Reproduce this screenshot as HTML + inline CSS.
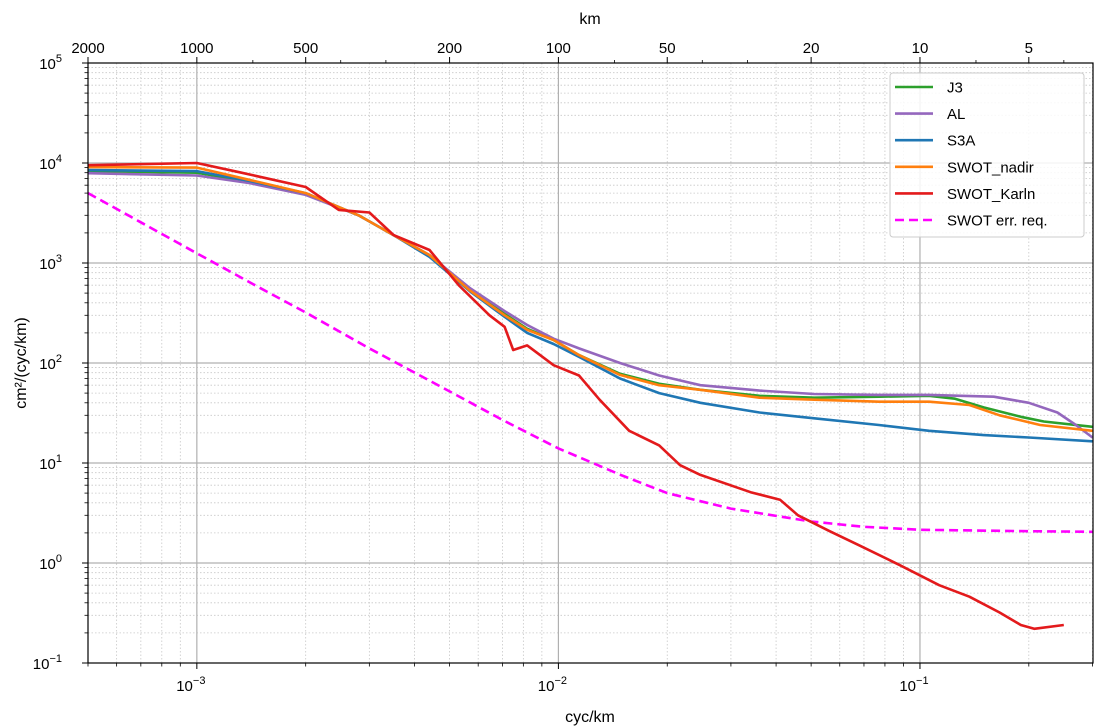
<!DOCTYPE html>
<html><head><meta charset="utf-8"><style>
body{margin:0;background:#fff;}
svg{display:block;font-family:"Liberation Sans","DejaVu Sans",sans-serif;}
</style></head><body>
<svg id="chart" width="1102" height="728" viewBox="0 0 1102 728">
<g id="grid"></g>
<g id="series"></g>
<rect x="88" y="63" width="1005" height="600" fill="none" stroke="#000" stroke-width="1.2"/>
<g id="axes"></g>
<text x="590" y="24" font-size="16" text-anchor="middle">km</text>
<text x="590" y="722" font-size="16" text-anchor="middle">cyc/km</text>
<text transform="translate(26,363) rotate(-90)" font-size="16" text-anchor="middle">cm²/(cyc/km)</text>
<g id="legend">
<rect x="890" y="73" width="194" height="164" rx="3" fill="#fff" fill-opacity="0.85" stroke="#ccc"/>
</g>
</svg>
<script>
const xTicksMajor=[1e-3,1e-2,1e-1];
const xTickLabels=["10","10","10"];
const xTickExps=["−3","−2","−1"];
const kmTicks=[2000,1000,500,200,100,50,20,10,5];
const yTicksMajor=[1e-1,1,10,100,1000,1e4,1e5];
const yTickExps=["−1","0","1","2","3","4","5"];

const fJ3=[5e-4,1e-3,1.4e-3,2e-3,2.8e-3,3.5e-3,4.4e-3,5.7e-3,7.1e-3,8.2e-3,9.7e-3,1.14e-2,1.48e-2,1.9e-2,2.47e-2,3.6e-2,5.1e-2,7.7e-2,0.106,0.125,0.15,0.19,0.22,0.3];
const vJ3=[8300,8000,6500,4900,3000,1900,1200,540,310,220,170,120,78,62,54,47,45,46,47,44,36,29,26,23];
const fAL=[5e-4,1e-3,1.4e-3,2e-3,2.8e-3,3.5e-3,4.4e-3,5.7e-3,7.1e-3,8.2e-3,9.7e-3,1.14e-2,1.48e-2,1.9e-2,2.47e-2,3.6e-2,5.1e-2,7.7e-2,0.106,0.13,0.16,0.2,0.24,0.27,0.3];
const vAL=[7900,7500,6300,4800,3000,1900,1200,560,330,240,175,140,100,75,60,53,49,48,48,47,46,40,32,24,18];
const fS3A=[5e-4,1e-3,1.4e-3,2e-3,2.8e-3,3.5e-3,4.4e-3,5.7e-3,7.1e-3,8.2e-3,9.7e-3,1.14e-2,1.48e-2,1.9e-2,2.47e-2,3.6e-2,5.1e-2,7.7e-2,0.106,0.15,0.2,0.3];
const vS3A=[8500,8300,6600,5000,3000,1900,1150,520,290,200,155,115,70,50,40,32,28,24,21,19,18,16.5];
const fNadir=[5e-4,1e-3,1.39e-3,2e-3,2.8e-3,3.5e-3,4.4e-3,5.66e-3,7.1e-3,8.2e-3,9.7e-3,1.14e-2,1.48e-2,1.9e-2,2.47e-2,3.6e-2,5.1e-2,7.7e-2,0.106,0.137,0.166,0.215,0.3];
const vNadir=[9100,9000,6800,5000,3000,1900,1200,540,300,215,170,120,76,60,54,45,43,41,41,38,30,24,21];
const fKarln=[5e-4,1e-3,1.31e-3,2e-3,2.47e-3,3e-3,3.5e-3,4.4e-3,5.3e-3,6.45e-3,7.1e-3,7.5e-3,8.2e-3,9.7e-3,1.14e-2,1.3e-2,1.57e-2,1.9e-2,2.17e-2,2.47e-2,3.4e-2,4.1e-2,4.6e-2,5.6e-2,6.8e-2,8.8e-2,0.113,0.137,0.166,0.19,0.207,0.25];
const vKarln=[9500,10000,8100,5750,3400,3200,1900,1350,600,300,230,135,150,95,75,43,21,15,9.5,7.6,5.1,4.3,3,2.1,1.5,0.95,0.6,0.46,0.32,0.24,0.22,0.24];
const fReq=[5e-4,7e-4,1e-3,1.5e-3,2e-3,3e-3,5e-3,7e-3,1e-2,1.5e-2,2e-2,3e-2,5e-2,7e-2,0.1,0.2,0.3];
const vReq=[5000,2550,1250,560,320,140,52,27,14,7.5,5,3.5,2.6,2.3,2.15,2.08,2.05];

const NS='http://www.w3.org/2000/svg';
const L=88,R=1093,T=63,B=663;
const lx0=Math.log10(5e-4),lx1=Math.log10(0.301);
function X(f){return L+(Math.log10(f)-lx0)/(lx1-lx0)*(R-L);}
function Y(v){return B-(Math.log10(v)+1)/6*(B-T);}
function mk(tag,attrs,parent){const e=document.createElementNS(NS,tag);for(const k in attrs)e.setAttribute(k,attrs[k]);parent.appendChild(e);return e;}
const grid=document.getElementById('grid'),axes=document.getElementById('axes'),ser=document.getElementById('series'),leg=document.getElementById('legend');

// minor grid x
for(let d=-4;d<=0;d++)for(let m=2;m<=9;m++){const f=m*Math.pow(10,d);if(f<5e-4||f>0.301)continue;
 const l=mk('line',{x1:X(f),x2:X(f),y1:T,y2:B,stroke:'#c8c8c8','stroke-width':0.8,'stroke-dasharray':'1.5,2'},grid);
 
 const t=mk('line',{x1:X(f),x2:X(f),y1:B,y2:B+3.5,stroke:'#000','stroke-width':0.8},axes);
 }
for(let d=-1;d<5;d++)for(let m=2;m<=9;m++){const v=m*Math.pow(10,d);
 const l=mk('line',{x1:L,x2:R,y1:Y(v),y2:Y(v),stroke:'#c8c8c8','stroke-width':0.8,'stroke-dasharray':'1.5,2'},grid);
 
 const t=mk('line',{x1:L-3.5,x2:L,y1:Y(v),y2:Y(v),stroke:'#000','stroke-width':0.8},axes);
 }
xTicksMajor.forEach((f,i)=>{
 const l=mk('line',{x1:X(f),x2:X(f),y1:T,y2:B,stroke:'#b0b0b0','stroke-width':1.2},grid);
 
 const t=mk('line',{x1:X(f),x2:X(f),y1:B,y2:B+6,stroke:'#000','stroke-width':1},axes);
 
 const tx=mk('text',{x:X(f)-6,y:B+28,'font-size':15,'text-anchor':'middle'},axes);
 
 tx.textContent=xTickLabels[i];
 const sp=mk('tspan',{dy:-7,'font-size':11},tx);sp.textContent=xTickExps[i];});
yTicksMajor.forEach((v,i)=>{
 if(i>0&&i<yTicksMajor.length-1){const l=mk('line',{x1:L,x2:R,y1:Y(v),y2:Y(v),stroke:'#b0b0b0','stroke-width':1.2},grid);
 }
 const t=mk('line',{x1:L-6,x2:L,y1:Y(v),y2:Y(v),stroke:'#000','stroke-width':1},axes);
 
 const tx=mk('text',{x:L-26,y:Y(v)+6,'font-size':15,'text-anchor':'end'},axes);
 
 tx.textContent='10';
 const sp=mk('tspan',{dy:-7,'font-size':11},tx);sp.textContent=yTickExps[i];});
// top km axis
kmTicks.forEach(k=>{const f=1/k;
 const t=mk('line',{x1:X(f),x2:X(f),y1:T-6,y2:T,stroke:'#000','stroke-width':1},axes);
 
 const tx=mk('text',{x:X(f),y:T-10,'font-size':15,'text-anchor':'middle'},axes);
 
 tx.textContent=String(k);});
[3000,700,400,300,70,40,30,7,4].forEach(k=>{const f=1/k;if(f<5e-4||f>0.301)return;
 const t=mk('line',{x1:X(f),x2:X(f),y1:T-3,y2:T,stroke:'#000','stroke-width':0.8},axes);
 });

function pts(fs,vs){return fs.map((f,i)=>X(f).toFixed(1)+','+Y(vs[i]).toFixed(1)).join(' ');}
const S=[
 {n:'series-swot-err-req',f:fReq,v:vReq,c:'#ff00ff',d:'9,5',lab:'SWOT err. req.'},
 {n:'series-j3',f:fJ3,v:vJ3,c:'#2ca02c',lab:'J3'},
 {n:'series-al',f:fAL,v:vAL,c:'#9467bd',lab:'AL'},
 {n:'series-s3a',f:fS3A,v:vS3A,c:'#1f77b4',lab:'S3A'},
 {n:'series-swot-nadir',f:fNadir,v:vNadir,c:'#ff7f0e',lab:'SWOT_nadir'},
 {n:'series-swot-karln',f:fKarln,v:vKarln,c:'#e31a1c',lab:'SWOT_Karln'}];
S.forEach(s=>{const p=mk('polyline',{points:pts(s.f,s.v),fill:'none',stroke:s.c,'stroke-width':2.6,'stroke-linejoin':'round'},ser);
 if(s.d)p.setAttribute('stroke-dasharray',s.d);
 });
const order=[1,2,3,4,5,0];
order.forEach((idx,i)=>{const s=S[idx];const y=87+i*26.6;
 const l=mk('line',{x1:895,x2:933,y1:y,y2:y,stroke:s.c,'stroke-width':2.6},leg);
 if(s.d)l.setAttribute('stroke-dasharray','9,5');
 
 const t=mk('text',{x:947,y:y+5.5,'font-size':15},leg);
 
 t.textContent=s.lab;});
</script>
</body></html>
